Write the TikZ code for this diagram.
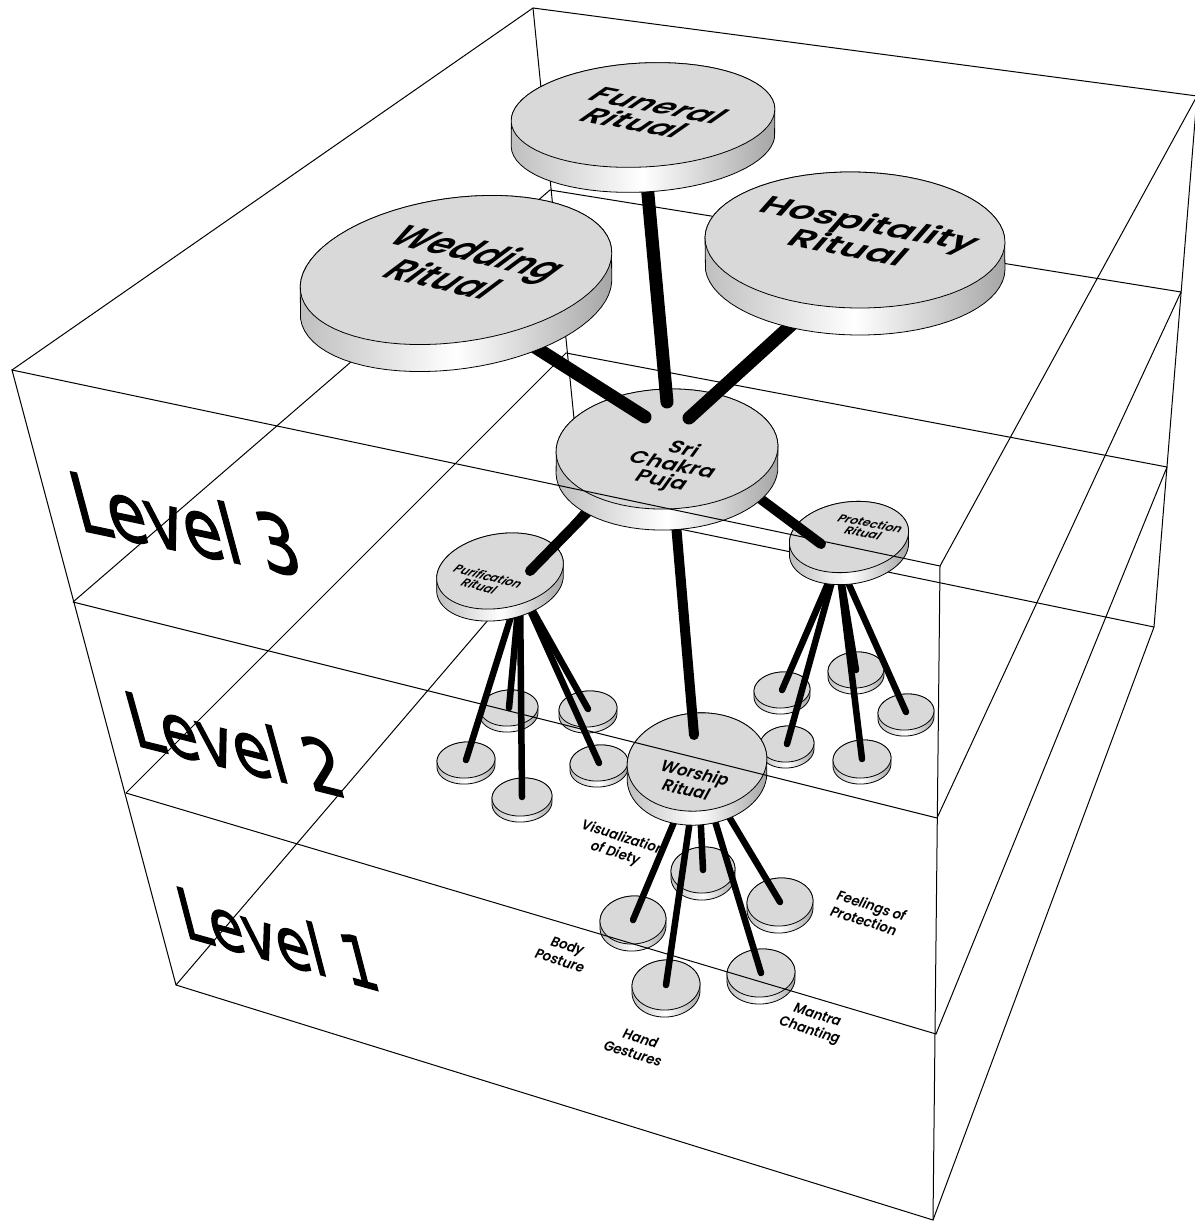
\documentclass[tikz,border=0pt]{standalone}
\usepackage{fontspec}
\newfontfamily\discfont{Poppins SemiBold}
\newfontfamily\levelfont{DejaVu Sans}[FakeBold=2]
\usetikzlibrary{calc}

% disc in perspective: name, x, y, half width, half depth, tilt, thickness
\newcommand\ritualdisc[7]{%
  \coordinate (#1) at (#2,#3);
  \draw[discside] plot[domain=0:360,samples=73]
    ({#2+#4*cos(\x)*cos(#6)-#5*sin(\x)*sin(#6)},
     {#3+#4*cos(\x)*sin(#6)+#5*sin(\x)*cos(#6)+#7*((sin(#6)*cos(\x)/#4+cos(#6)*sin(\x)/#5)>0)}) -- cycle;
  \draw[disctop] plot[domain=0:360,samples=73]
    ({#2+#4*cos(\x)*cos(#6)-#5*sin(\x)*sin(#6)},
     {#3+#4*cos(\x)*sin(#6)+#5*sin(\x)*cos(#6)}) -- cycle;
}
\newcommand\planeup{1.3}

\begin{document}
\begin{tikzpicture}[x=1pt,y=-1pt,
    boxline/.style={line width=1pt},
    discside/.style={draw,line width=0.8pt,left color=black!25,right color=black!35,middle color=white},
    disctop/.style={draw,line width=0.8pt,fill=black!15},
    rod/.style={line width=#1,line cap=round},
    plane/.style n args={3}{/utils/exec={%
        \pgfmathsetmacro\pla{cos(#2)*cos(#3)+#1*sin(#2)*sin(#3)}%
        \pgfmathsetmacro\plb{-sin(#2)*cos(#3)+#1*cos(#2)*sin(#3)}%
        \pgfmathsetmacro\plc{\planeup*(-cos(#2)*sin(#3)+#1*sin(#2)*cos(#3))}%
        \pgfmathsetmacro\pld{\planeup*(sin(#2)*sin(#3)+#1*cos(#2)*cos(#3))}},
      cm={\pla,\plb,\plc,\pld,(0,0)}},
    disclabel/.style 2 args={font=\discfont\fontsize{#1}{#2}\selectfont,align=center,inner sep=0pt},
    floorlabel/.style={disclabel={13.5}{16},plane={0.78}{0}{-22}},
    levellabel/.style={font=\levelfont\fontsize{82}{90}\selectfont,inner sep=0pt,anchor=base west}
  ]
  \useasboundingbox (0,0) rectangle (1194,1222);
  % Corners of the box and of its two floors.
  \coordinate (tL) at (12,370);   \coordinate (tB) at (533,8);
  \coordinate (tR) at (1197,96);  \coordinate (tF) at (940,566);
  \coordinate (mL) at (73,602);   \coordinate (mB) at (550,190);
  \coordinate (mR) at (1181,292); \coordinate (mF) at (937,818);
  \coordinate (nL) at (126,793);  \coordinate (nB) at (566,353);
  \coordinate (nR) at (1167,467); \coordinate (nF) at (936,1034);
  \coordinate (bL) at (176,985);  \coordinate (bB) at (583,509);
  \coordinate (bR) at (1154,627); \coordinate (bF) at (933,1220);
  % Back edges, hidden by the discs.
  \draw[boxline] (tL) -- (tB) -- (tR);
  \draw[boxline] (mL) -- (mB) -- (mR);
  \draw[boxline] (nL) -- (nB) -- (nR);
  \draw[boxline] (bL) -- (bB) -- (bR);
  \draw[boxline] (tB) -- (bB);

  % Level 1.
  \ritualdisc{vis}{703}{870}{32}{23}{-4}{7}
  \ritualdisc{feel}{780}{902}{33}{24}{-4}{7}
  \ritualdisc{body}{633}{920}{33}{24}{-4}{7}
  \ritualdisc{mantra}{761}{973}{34}{24}{-4}{7}
  \ritualdisc{hand}{666}{985}{34}{25}{-4}{7}
  % Level 2.
  \ritualdisc{pa}{509}{708}{29}{18}{-4}{6}
  \ritualdisc{pb}{588}{709}{29}{18}{-4}{6}
  \ritualdisc{pc}{466}{760}{29}{18}{-4}{6}
  \ritualdisc{pe}{599}{763}{29}{18}{-4}{6}
  \ritualdisc{pd}{522}{797}{30}{19}{-4}{6}
  \ritualdisc{qb}{856}{670}{28}{18}{-4}{6}
  \ritualdisc{qa}{782}{690}{28}{18}{-4}{6}
  \ritualdisc{qc}{906}{712}{28}{18}{-4}{6}
  \ritualdisc{qd}{787}{744}{27}{18}{-4}{6}
  \ritualdisc{qe}{862}{759}{29}{19}{-4}{6}

  \coordinate (wor-b) at (698,765);
  \coordinate (pur-b) at (520,588);
  \coordinate (pro-b) at (838,560);
  \foreach \c in {vis,body,feel,hand,mantra} \draw[rod=6.5pt] (wor-b) -- (\c);
  \foreach \c in {pa,pb,pc,pd,pe} \draw[rod=6.5pt] (pur-b) -- (\c);
  \foreach \c in {qa,qb,qc,qd,qe} \draw[rod=6.5pt] (pro-b) -- (\c);

  \ritualdisc{wor}{697}{762}{70}{49}{-5}{14}
  \node[disclabel={17}{17},plane={0.71}{-5}{-25}] (wor-l) at (691,781) {Worship\\Ritual};
  \ritualdisc{pur}{500}{571}{64}{37}{-10}{12}
  \node[disclabel={13.5}{13},plane={0.59}{-10}{-38}] (pur-l) at (484,581) {Purification\\Ritual};
  \ritualdisc{pro}{849}{537}{60}{35}{-8}{12}
  \node[disclabel={13.5}{13},plane={0.58}{-8}{-30}] (pro-l) at (867,528) {Protection\\Ritual};

  % Level 3.
  \coordinate (sri-b) at (668,430);
  \coordinate (pur-t) at (530,571);
  \coordinate (pro-t) at (821,544);
  \coordinate (wor-t) at (694,735);
  \foreach \c in {pur-t,pro-t,wor-t} \draw[rod=10pt] (sri-b) -- (\c);
  \ritualdisc{sri}{667}{449}{111}{60}{-2}{21}
  \node[disclabel={24}{23},plane={0.55}{-2}{-23}] (sri-l) at (672,466) {Sri\\Chakra\\Puja};

  % Rituals above the box.
  \coordinate (wed-b) at (456,297);
  \coordinate (fun-b) at (643,140);
  \coordinate (hos-b) at (855,267);
  \coordinate (sri-w) at (645,417);
  \coordinate (sri-f) at (667,402);
  \coordinate (sri-h) at (689,418);
  \draw[rod=13pt] (wed-b) -- (sri-w);
  \draw[rod=13pt] (fun-b) -- (sri-f);
  \draw[rod=13pt] (hos-b) -- (sri-h);
  \ritualdisc{fun}{643}{115}{132}{52}{-3}{25}
  \node[disclabel={39}{37},plane={0.39}{-3}{-32}] (fun-l) at (647,114) {Funeral\\Ritual};
  \ritualdisc{wed}{456}{270}{157}{72}{-8}{27}
  \node[disclabel={44}{43},plane={0.46}{-8}{-40}] (wed-l) at (462,265) {Wedding\\Ritual};
  \ritualdisc{hos}{855}{240}{150}{68}{1}{27}
  \node[disclabel={42}{41},plane={0.45}{1}{-21}] (hos-l) at (860,235) {Hospitality\\Ritual};

  % Front edges, over the discs.
  \draw[boxline] (tL) -- (tF) -- (tR) -- (bR) -- (bF) -- (bL) -- cycle;
  \draw[boxline] (tF) -- (bF);
  \draw[boxline] (mL) -- (mF) -- (mR);
  \draw[boxline] (nL) -- (nF) -- (nR);

  % Labels.
  \node[levellabel,cm={0.766,-0.162,-0.266,0.995,(0,0)}] (lev3) at (80,530) {Level 3};
  \node[levellabel,cm={0.727,-0.182,-0.254,0.917,(0,0)}] (lev2) at (135,745) {Level 2};
  \node[levellabel,cm={0.672,-0.187,-0.224,0.863,(0,0)}] (lev1) at (185,937) {Level 1};
  \node[floorlabel] (vis-l) at (619,846) {Visualization\\of Diety};
  \node[floorlabel] (body-l) at (564,953) {Body\\Posture};
  \node[floorlabel] (feel-l) at (868,913) {Feelings of\\Protection};
  \node[floorlabel] (hand-l) at (637,1046) {Hand\\Gestures};
  \node[floorlabel] (mantra-l) at (813,1024) {Mantra\\Chanting};
\end{tikzpicture}
\end{document}
